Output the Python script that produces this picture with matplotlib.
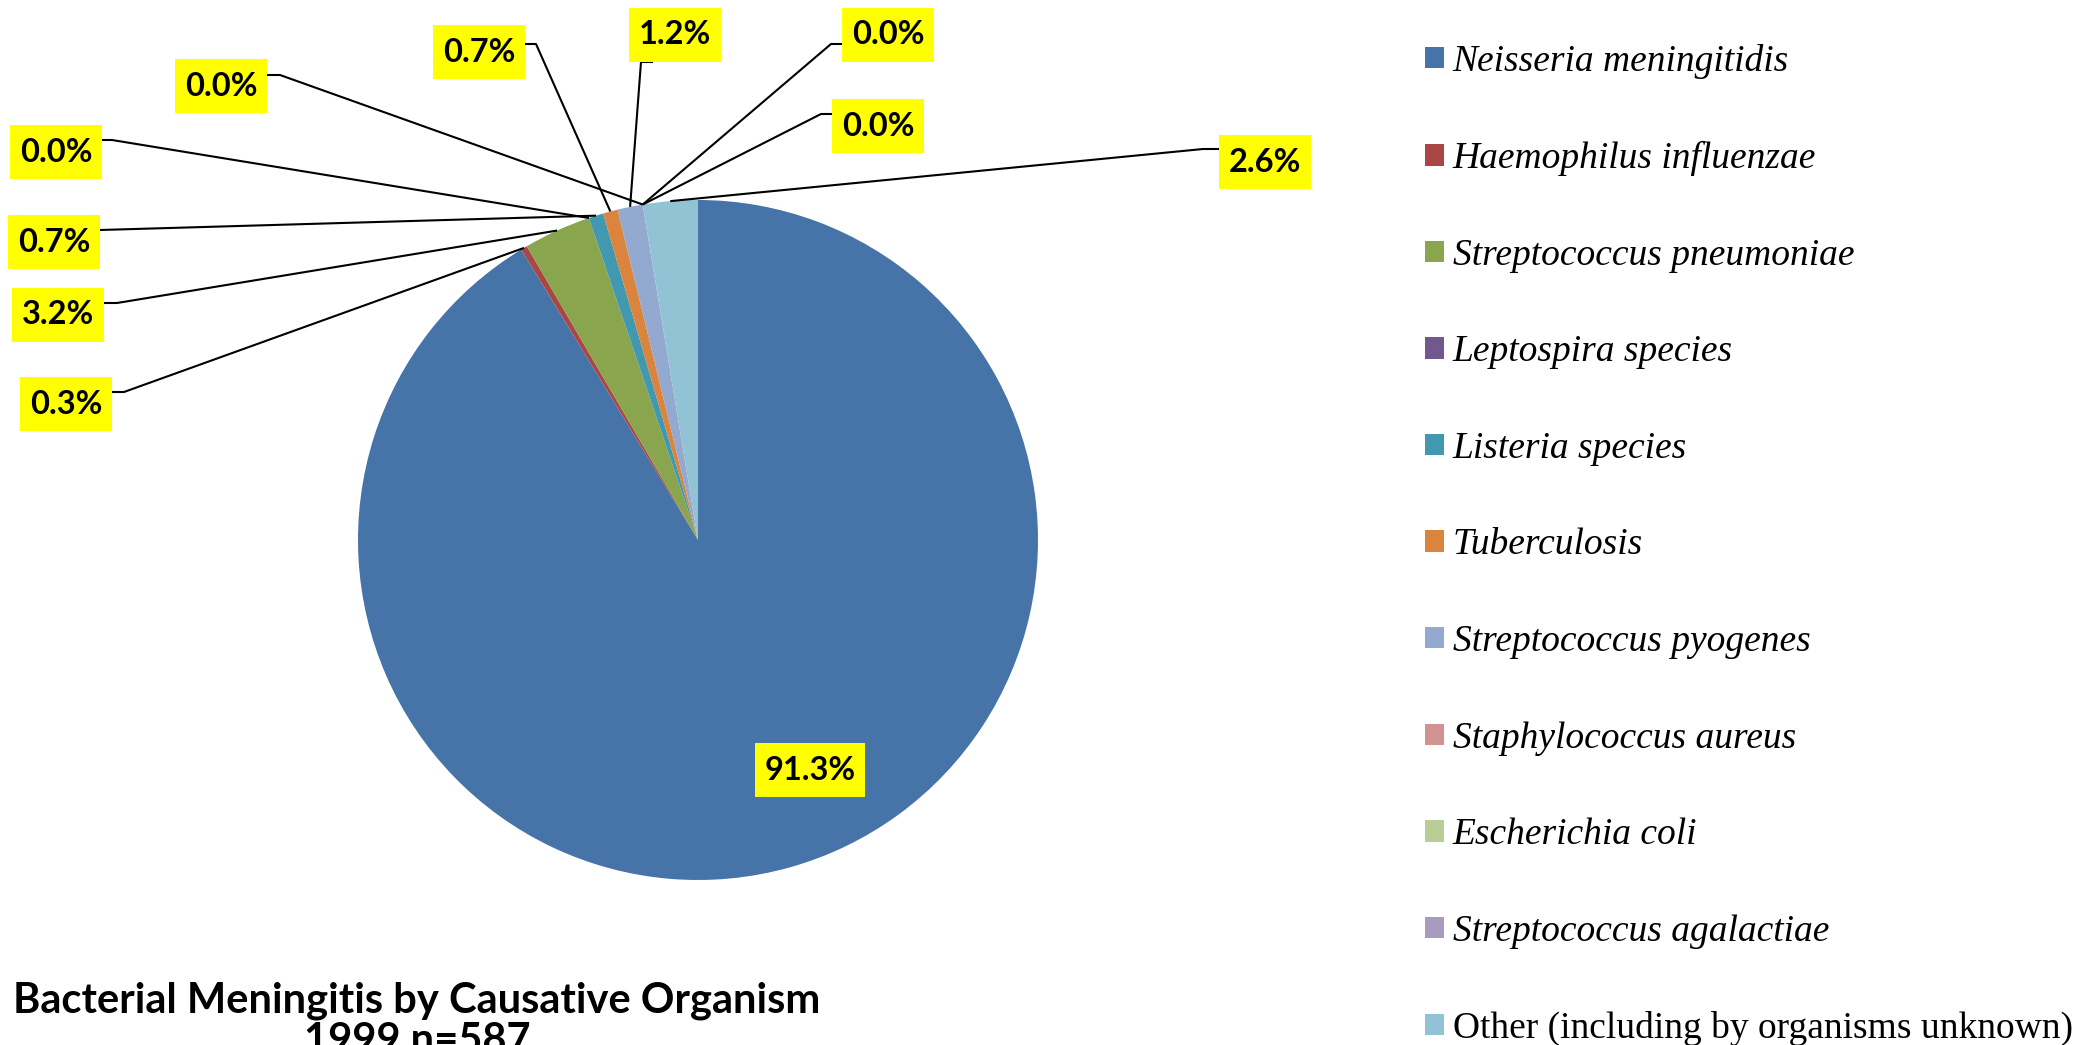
import numpy as np
import matplotlib

matplotlib.use("Agg")
import matplotlib.pyplot as plt
from matplotlib.patches import Rectangle

W, H = 2092, 1045

ORGANISMS = [
    "Neisseria meningitidis",
    "Haemophilus influenzae",
    "Streptococcus pneumoniae",
    "Leptospira species",
    "Listeria species",
    "Tuberculosis",
    "Streptococcus pyogenes",
    "Staphylococcus aureus",
    "Escherichia coli",
    "Streptococcus agalactiae",
    "Other (including by organisms unknown)",
]
PERCENT = [91.3, 0.3, 3.2, 0.0, 0.7, 0.7, 1.2, 0.0, 0.0, 0.0, 2.6]
ITALIC = [True] * 10 + [False]

COLORS = ["#4674A8", "#AA4643", "#89A54E", "#71588F", "#4198AF", "#DB843D",
          "#93A9CF", "#D19392", "#B9CD96", "#A99BBD", "#92C3D4"]

# label layout in pixels: box centre, elbow of leader, point where leader meets box
LABEL_LAYOUT = [
    ((810, 770), None, None),
    ((66, 404), (124, 392), (112, 392)),
    ((58, 315), (117, 303), (103, 303)),
    ((56, 152), (112, 140), (101, 140)),
    ((54, 242), (100, 230), (100, 230)),
    ((479, 52), (536, 44), (525, 44)),
    ((675, 35), (641, 62), (653, 62)),
    ((221, 86), (280, 75), (267, 75)),
    ((888, 35), (831, 44), (843, 44)),
    ((878, 126), (821, 114), (833, 114)),
    ((1265, 162), (1203, 149), (1219, 149)),
]

CX, CY, R = 698, 540, 340

fig = plt.figure(figsize=(W / 100, H / 100), dpi=100)
fig.patch.set_facecolor("white")

pax = fig.add_axes([(CX - R) / W, (H - CY - R) / H, 2 * R / W, 2 * R / H])
wedges, _ = pax.pie(PERCENT, colors=COLORS, startangle=90, counterclock=False,
                    radius=1, wedgeprops=dict(linewidth=0))
pax.set_xlim(-1, 1)
pax.set_ylim(-1, 1)

# overlay in pixel coords for labels and leader lines
ov = fig.add_axes([0, 0, 1, 1], zorder=3)
ov.set_xlim(0, W)
ov.set_ylim(H, 0)
ov.axis("off")
ov.patch.set_alpha(0)

renderer = fig.canvas.get_renderer()
for w, pct, (box, elbow, attach) in zip(wedges, PERCENT, LABEL_LAYOUT):
    if elbow is not None:
        mid = np.deg2rad((w.theta1 + w.theta2) / 2)
        ex = CX + R * np.cos(mid)
        ey = CY - R * np.sin(mid)
        ov.plot([ex, elbow[0], attach[0]], [ey, elbow[1], attach[1]],
                color="black", lw=1.5, zorder=1, solid_capstyle="butt")
    t = ov.text(box[0], box[1], f"{pct:.1f}%", ha="center", va="center",
                fontsize=23.5, fontweight="bold", family="Lato", zorder=4)
    bb = t.get_window_extent(renderer)
    bw = bb.width + 19
    bh = 54
    ov.add_patch(Rectangle((box[0] - bw / 2, box[1] - bh / 2), bw, bh,
                           fc="#FFFF00", ec="none", zorder=3))

ov.text(417, 1053, "Bacterial Meningitis by Causative Organism\n1999 n=587",
        ha="center", va="baseline", fontsize=30, fontweight="bold",
        family="Lato", linespacing=1.05)

leg = fig.legend(wedges, ORGANISMS, loc="upper left",
                 bbox_to_anchor=(1425 / W, 1 - 44 / H), frameon=False,
                 prop={"family": "Liberation Serif", "size": 27},
                 handlelength=0.5, handleheight=0.5, handletextpad=0.24,
                 labelspacing=1.655, borderpad=0, borderaxespad=0)
for t, it in zip(leg.get_texts(), ITALIC):
    if it:
        t.set_style("italic")

fig.savefig("out.png", dpi=100)
